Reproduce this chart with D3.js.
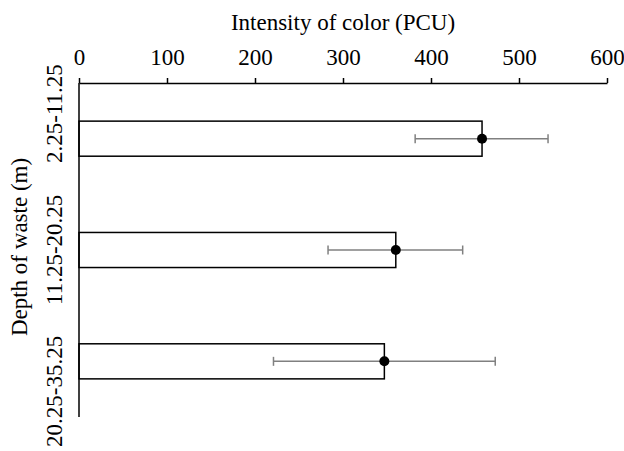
<!DOCTYPE html>
<html><head><meta charset="utf-8">
<script src="https://cdn.jsdelivr.net/npm/d3@7"></script>
<style>body{margin:0;background:#fff}svg{display:block}</style>
</head><body><svg id="c" width="624" height="451"></svg>
<script>
const categories = ["2.25-11.25", "11.25-20.25", "20.25-35.25"];
const values = [458, 360, 347];
const errLow = [382, 283, 221];
const errHigh = [533, 436, 473];
const xTicks = [0, 100, 200, 300, 400, 500, 600];
const xTitle = "Intensity of color (PCU)";
const yTitle = "Depth of waste (m)";

const FONT = "'Liberation Serif', 'Times New Roman', Tinos, 'Nimbus Roman', 'DejaVu Serif', serif";
const FS = "23px";
const svg = d3.select("#c");
const x = d3.scaleLinear().domain([0, 600]).range([79, 607]);
const y = d3.scaleBand().domain(categories).range([83, 417]).paddingInner(0.685).paddingOuter(0.3425);
const labelPos = d3.scalePoint().domain(categories).range([163, 447]);

// bars
svg.selectAll("rect.bar").data(categories).join("rect")
  .attr("x", x(0)).attr("y", d => y(d))
  .attr("width", (d,i) => x(values[i]) - x(0)).attr("height", y.bandwidth())
  .attr("fill", "#fff").attr("stroke", "#000").attr("stroke-width", 1.5);

// error bars
const eb = svg.selectAll("g.err").data(categories).join("g")
  .attr("transform", d => `translate(0,${y(d) + y.bandwidth()/2})`);
eb.append("line").attr("x1", (d,i) => x(errLow[i])).attr("x2", (d,i) => x(errHigh[i]))
  .attr("stroke", "#808080").attr("stroke-width", 1.5);
eb.append("line").attr("x1", (d,i) => x(errLow[i])).attr("x2", (d,i) => x(errLow[i]))
  .attr("y1", -4.5).attr("y2", 4.5).attr("stroke", "#808080").attr("stroke-width", 1.5);
eb.append("line").attr("x1", (d,i) => x(errHigh[i])).attr("x2", (d,i) => x(errHigh[i]))
  .attr("y1", -4.5).attr("y2", 4.5).attr("stroke", "#808080").attr("stroke-width", 1.5);
eb.append("circle").attr("cx", (d,i) => x(values[i])).attr("r", 5).attr("fill", "#000");

// x axis (top)
const xa = svg.append("g").attr("transform", "translate(0,83)")
  .call(d3.axisTop(x).tickValues(xTicks).tickSize(5).tickSizeOuter(0).tickPadding(5));
xa.attr("font-family", null).attr("font-size", null);
xa.select(".domain").attr("stroke", "#000").attr("stroke-width", 1.5);
xa.selectAll(".tick line").attr("stroke", "#000").attr("stroke-width", 1.5);
xa.selectAll(".tick text").style("font-family", FONT).style("font-size", FS).attr("fill", "#000").attr("y", -18).attr("dy", 0);

// y axis line
svg.append("line").attr("x1", x(0)).attr("x2", x(0)).attr("y1", 83).attr("y2", 417)
  .attr("stroke", "#000").attr("stroke-width", 1.5);

// category labels
svg.selectAll("text.cat").data(categories).join("text")
  .attr("class", "cat").style("font-family", FONT).style("font-size", FS)
  .attr("transform", d => `translate(62,${labelPos(d)}) rotate(-90)`)
  .attr("text-anchor", "start").text(d => d);

// titles
svg.append("text").attr("x", (x(0) + x(600))/2).attr("y", 30).attr("text-anchor", "middle")
  .style("font-family", FONT).style("font-size", FS).text(xTitle);
svg.append("text").attr("transform", "translate(27,247) rotate(-90)").attr("text-anchor", "middle")
  .style("font-family", FONT).style("font-size", FS).text(yTitle);
</script></body></html>
